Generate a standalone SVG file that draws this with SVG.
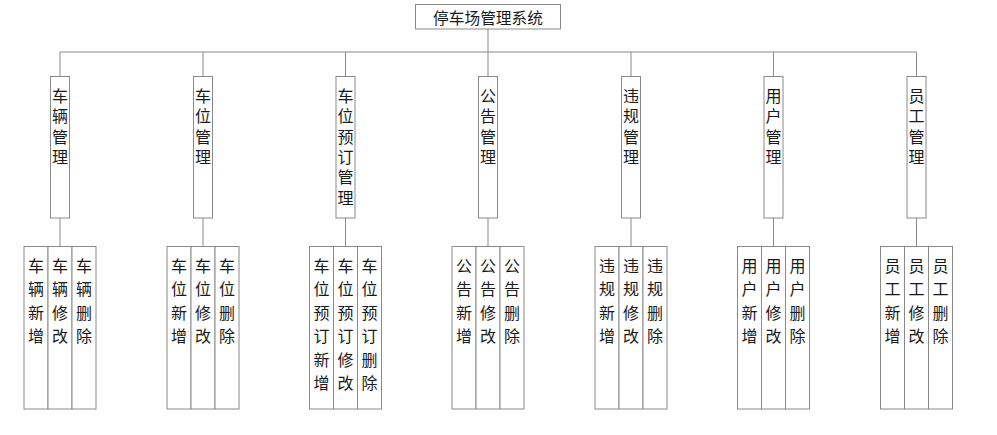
<svg xmlns="http://www.w3.org/2000/svg" width="997" height="435" viewBox="0 0 997 435">
<style>
.box{fill:#fff;stroke:#8a8a8a;stroke-width:1}
.ln{stroke:#8a8a8a;stroke-width:1;fill:none}
.t{font-family:"Noto Sans CJK SC","Noto Sans",sans-serif;font-size:16px;fill:#1a1a1a;text-anchor:middle}
</style>
<rect width="997" height="435" fill="#fff"/>
<g id="connectors" class="ln">
<line x1="488" y1="29" x2="488" y2="52"/>
<line x1="60" y1="52" x2="916.5" y2="52"/>
<line x1="60" y1="52" x2="60" y2="76"/>
<line x1="203" y1="52" x2="203" y2="76"/>
<line x1="345.5" y1="52" x2="345.5" y2="76"/>
<line x1="488" y1="52" x2="488" y2="76"/>
<line x1="631" y1="52" x2="631" y2="76"/>
<line x1="773.5" y1="52" x2="773.5" y2="76"/>
<line x1="916.5" y1="52" x2="916.5" y2="76"/>
<line x1="60" y1="218" x2="60" y2="246"/>
<line x1="203" y1="218" x2="203" y2="246"/>
<line x1="345.5" y1="218" x2="345.5" y2="246"/>
<line x1="488" y1="218" x2="488" y2="246"/>
<line x1="631" y1="218" x2="631" y2="246"/>
<line x1="773.5" y1="218" x2="773.5" y2="246"/>
<line x1="916.5" y1="218" x2="916.5" y2="246"/>
</g>
<g id="root">
<rect class="box" x="415.5" y="4.5" width="145" height="24.5"/>
<text class="t" x="488" y="24.3" style="font-size:15.7px">停车场管理系统</text>
</g>
<g id="m1">
<rect class="box" x="50.5" y="76.5" width="19" height="141.5"/>
<text class="t" y="102.1"><tspan x="60">车</tspan><tspan x="60" dy="20.3">辆</tspan><tspan x="60" dy="20.3">管</tspan><tspan x="60" dy="20.3">理</tspan></text>
</g>
<g id="m2">
<rect class="box" x="193.5" y="76.5" width="19" height="141.5"/>
<text class="t" y="102.1"><tspan x="203">车</tspan><tspan x="203" dy="20.3">位</tspan><tspan x="203" dy="20.3">管</tspan><tspan x="203" dy="20.3">理</tspan></text>
</g>
<g id="m3">
<rect class="box" x="336" y="76.5" width="19" height="141.5"/>
<text class="t" y="102.1"><tspan x="345.5">车</tspan><tspan x="345.5" dy="20.3">位</tspan><tspan x="345.5" dy="20.3">预</tspan><tspan x="345.5" dy="20.3">订</tspan><tspan x="345.5" dy="20.3">管</tspan><tspan x="345.5" dy="20.3">理</tspan></text>
</g>
<g id="m4">
<rect class="box" x="478.5" y="76.5" width="19" height="141.5"/>
<text class="t" y="102.1"><tspan x="488">公</tspan><tspan x="488" dy="20.3">告</tspan><tspan x="488" dy="20.3">管</tspan><tspan x="488" dy="20.3">理</tspan></text>
</g>
<g id="m5">
<rect class="box" x="621.5" y="76.5" width="19" height="141.5"/>
<text class="t" y="102.1"><tspan x="631">违</tspan><tspan x="631" dy="20.3">规</tspan><tspan x="631" dy="20.3">管</tspan><tspan x="631" dy="20.3">理</tspan></text>
</g>
<g id="m6">
<rect class="box" x="764" y="76.5" width="19" height="141.5"/>
<text class="t" y="102.1"><tspan x="773.5">用</tspan><tspan x="773.5" dy="20.3">户</tspan><tspan x="773.5" dy="20.3">管</tspan><tspan x="773.5" dy="20.3">理</tspan></text>
</g>
<g id="m7">
<rect class="box" x="907" y="76.5" width="19" height="141.5"/>
<text class="t" y="102.1"><tspan x="916.5">员</tspan><tspan x="916.5" dy="20.3">工</tspan><tspan x="916.5" dy="20.3">管</tspan><tspan x="916.5" dy="20.3">理</tspan></text>
</g>
<g id="m1-leaves">
<rect class="box" x="24" y="246.5" width="24" height="162.5"/>
<rect class="box" x="48" y="246.5" width="24" height="162.5"/>
<rect class="box" x="72" y="246.5" width="24" height="162.5"/>
<text class="t" y="271.8"><tspan x="36">车</tspan><tspan x="36" dy="23.5">辆</tspan><tspan x="36" dy="23.5">新</tspan><tspan x="36" dy="23.5">增</tspan></text>
<text class="t" y="271.8"><tspan x="60">车</tspan><tspan x="60" dy="23.5">辆</tspan><tspan x="60" dy="23.5">修</tspan><tspan x="60" dy="23.5">改</tspan></text>
<text class="t" y="271.8"><tspan x="84">车</tspan><tspan x="84" dy="23.5">辆</tspan><tspan x="84" dy="23.5">删</tspan><tspan x="84" dy="23.5">除</tspan></text>
</g>
<g id="m2-leaves">
<rect class="box" x="167" y="246.5" width="24" height="162.5"/>
<rect class="box" x="191" y="246.5" width="24" height="162.5"/>
<rect class="box" x="215" y="246.5" width="24" height="162.5"/>
<text class="t" y="271.8"><tspan x="179">车</tspan><tspan x="179" dy="23.5">位</tspan><tspan x="179" dy="23.5">新</tspan><tspan x="179" dy="23.5">增</tspan></text>
<text class="t" y="271.8"><tspan x="203">车</tspan><tspan x="203" dy="23.5">位</tspan><tspan x="203" dy="23.5">修</tspan><tspan x="203" dy="23.5">改</tspan></text>
<text class="t" y="271.8"><tspan x="227">车</tspan><tspan x="227" dy="23.5">位</tspan><tspan x="227" dy="23.5">删</tspan><tspan x="227" dy="23.5">除</tspan></text>
</g>
<g id="m3-leaves">
<rect class="box" x="309.5" y="246.5" width="24" height="162.5"/>
<rect class="box" x="333.5" y="246.5" width="24" height="162.5"/>
<rect class="box" x="357.5" y="246.5" width="24" height="162.5"/>
<text class="t" y="271.8"><tspan x="321.5">车</tspan><tspan x="321.5" dy="23.5">位</tspan><tspan x="321.5" dy="23.5">预</tspan><tspan x="321.5" dy="23.5">订</tspan><tspan x="321.5" dy="23.5">新</tspan><tspan x="321.5" dy="23.5">增</tspan></text>
<text class="t" y="271.8"><tspan x="345.5">车</tspan><tspan x="345.5" dy="23.5">位</tspan><tspan x="345.5" dy="23.5">预</tspan><tspan x="345.5" dy="23.5">订</tspan><tspan x="345.5" dy="23.5">修</tspan><tspan x="345.5" dy="23.5">改</tspan></text>
<text class="t" y="271.8"><tspan x="369.5">车</tspan><tspan x="369.5" dy="23.5">位</tspan><tspan x="369.5" dy="23.5">预</tspan><tspan x="369.5" dy="23.5">订</tspan><tspan x="369.5" dy="23.5">删</tspan><tspan x="369.5" dy="23.5">除</tspan></text>
</g>
<g id="m4-leaves">
<rect class="box" x="452" y="246.5" width="24" height="162.5"/>
<rect class="box" x="476" y="246.5" width="24" height="162.5"/>
<rect class="box" x="500" y="246.5" width="24" height="162.5"/>
<text class="t" y="271.8"><tspan x="464">公</tspan><tspan x="464" dy="23.5">告</tspan><tspan x="464" dy="23.5">新</tspan><tspan x="464" dy="23.5">增</tspan></text>
<text class="t" y="271.8"><tspan x="488">公</tspan><tspan x="488" dy="23.5">告</tspan><tspan x="488" dy="23.5">修</tspan><tspan x="488" dy="23.5">改</tspan></text>
<text class="t" y="271.8"><tspan x="512">公</tspan><tspan x="512" dy="23.5">告</tspan><tspan x="512" dy="23.5">删</tspan><tspan x="512" dy="23.5">除</tspan></text>
</g>
<g id="m5-leaves">
<rect class="box" x="595" y="246.5" width="24" height="162.5"/>
<rect class="box" x="619" y="246.5" width="24" height="162.5"/>
<rect class="box" x="643" y="246.5" width="24" height="162.5"/>
<text class="t" y="271.8"><tspan x="607">违</tspan><tspan x="607" dy="23.5">规</tspan><tspan x="607" dy="23.5">新</tspan><tspan x="607" dy="23.5">增</tspan></text>
<text class="t" y="271.8"><tspan x="631">违</tspan><tspan x="631" dy="23.5">规</tspan><tspan x="631" dy="23.5">修</tspan><tspan x="631" dy="23.5">改</tspan></text>
<text class="t" y="271.8"><tspan x="655">违</tspan><tspan x="655" dy="23.5">规</tspan><tspan x="655" dy="23.5">删</tspan><tspan x="655" dy="23.5">除</tspan></text>
</g>
<g id="m6-leaves">
<rect class="box" x="737.5" y="246.5" width="24" height="162.5"/>
<rect class="box" x="761.5" y="246.5" width="24" height="162.5"/>
<rect class="box" x="785.5" y="246.5" width="24" height="162.5"/>
<text class="t" y="271.8"><tspan x="749.5">用</tspan><tspan x="749.5" dy="23.5">户</tspan><tspan x="749.5" dy="23.5">新</tspan><tspan x="749.5" dy="23.5">增</tspan></text>
<text class="t" y="271.8"><tspan x="773.5">用</tspan><tspan x="773.5" dy="23.5">户</tspan><tspan x="773.5" dy="23.5">修</tspan><tspan x="773.5" dy="23.5">改</tspan></text>
<text class="t" y="271.8"><tspan x="797.5">用</tspan><tspan x="797.5" dy="23.5">户</tspan><tspan x="797.5" dy="23.5">删</tspan><tspan x="797.5" dy="23.5">除</tspan></text>
</g>
<g id="m7-leaves">
<rect class="box" x="880.5" y="246.5" width="24" height="162.5"/>
<rect class="box" x="904.5" y="246.5" width="24" height="162.5"/>
<rect class="box" x="928.5" y="246.5" width="24" height="162.5"/>
<text class="t" y="271.8"><tspan x="892.5">员</tspan><tspan x="892.5" dy="23.5">工</tspan><tspan x="892.5" dy="23.5">新</tspan><tspan x="892.5" dy="23.5">增</tspan></text>
<text class="t" y="271.8"><tspan x="916.5">员</tspan><tspan x="916.5" dy="23.5">工</tspan><tspan x="916.5" dy="23.5">修</tspan><tspan x="916.5" dy="23.5">改</tspan></text>
<text class="t" y="271.8"><tspan x="940.5">员</tspan><tspan x="940.5" dy="23.5">工</tspan><tspan x="940.5" dy="23.5">删</tspan><tspan x="940.5" dy="23.5">除</tspan></text>
</g>
</svg>
